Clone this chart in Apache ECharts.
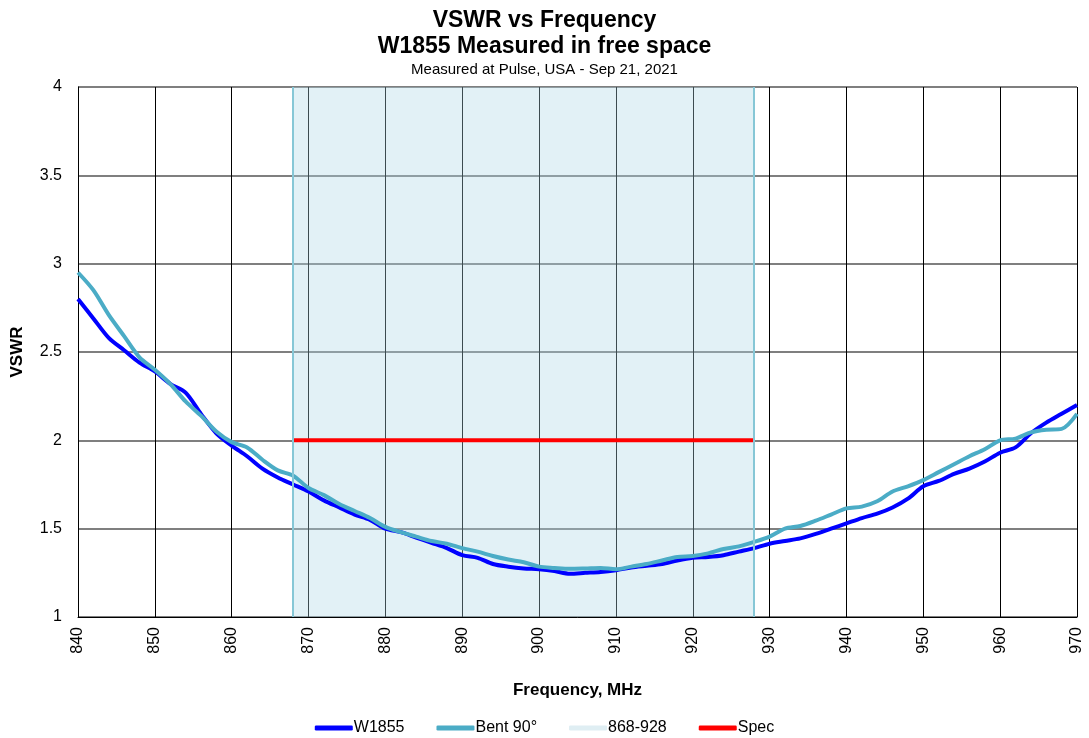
<!DOCTYPE html>
<html lang="en">
<head>
    <meta charset="UTF-8">
    <title>VSWR vs Frequency</title>
    <script type="text/javascript" src="https://cdn.jsdelivr.net/npm/echarts@6/dist/echarts.min.js"></script>
    <style>
        body { margin: 0; background: #fff; }
    </style>
</head>
<body>
    <div id="main" style="width: 1089px; height: 738px"></div>
    <script>
        // frequency points, MHz
        var freq = [840, 842, 844, 846, 848, 850, 852, 854, 856, 858,
                    860, 862, 864, 866, 868, 870, 872, 874, 876, 878,
                    880, 882, 884, 886, 888, 890, 892, 894, 896, 898,
                    900, 902, 904, 906, 908, 910, 912, 914, 916, 918,
                    920, 922, 924, 926, 928, 930, 932, 934, 936, 938,
                    940, 942, 944, 946, 948, 950, 952, 954, 956, 958,
                    960, 962, 964, 966, 968, 970];
        var w1855 = [2.80, 2.69, 2.58, 2.51, 2.44, 2.39, 2.32, 2.27, 2.15, 2.04,
                     1.97, 1.91, 1.84, 1.79, 1.75, 1.71, 1.66, 1.62, 1.58, 1.55,
                     1.50, 1.48, 1.45, 1.42, 1.39, 1.35, 1.335, 1.30, 1.285, 1.275,
                     1.27, 1.26, 1.245, 1.25, 1.255, 1.265, 1.28, 1.29, 1.30, 1.32,
                     1.335, 1.34, 1.35, 1.37, 1.39, 1.415, 1.43, 1.445, 1.47, 1.50,
                     1.53, 1.56, 1.585, 1.62, 1.67, 1.74, 1.77, 1.81, 1.84, 1.88,
                     1.93, 1.96, 2.04, 2.10, 2.15, 2.20];
        var bent90 = [2.95, 2.85, 2.71, 2.59, 2.47, 2.40, 2.32, 2.22, 2.14, 2.05,
                      1.99, 1.96, 1.89, 1.83, 1.80, 1.73, 1.69, 1.64, 1.60, 1.56,
                      1.51, 1.48, 1.455, 1.43, 1.415, 1.39, 1.37, 1.345, 1.325, 1.31,
                      1.285, 1.278, 1.273, 1.275, 1.278, 1.27, 1.285, 1.30, 1.32, 1.34,
                      1.345, 1.36, 1.385, 1.40, 1.425, 1.455, 1.50, 1.515, 1.545, 1.58,
                      1.615, 1.625, 1.655, 1.71, 1.74, 1.775, 1.82, 1.865, 1.91, 1.95,
                      2.00, 2.01, 2.045, 2.06, 2.065, 2.15];
        var band = [868, 928];
        var specLevel = 2;

        function pairs(xs, ys) {
            return xs.map(function (x, i) { return [x, ys[i]]; });
        }

        var myChart = echarts.init(document.getElementById('main'));
        var font = '"Liberation Sans", Arial, sans-serif';

        myChart.setOption({
            animation: false,
            textStyle: { fontFamily: font, color: '#000' },
            title: [{
                text: 'VSWR vs Frequency',
                left: 'center',
                top: 4,
                textStyle: { fontFamily: font, fontSize: 23, fontWeight: 'bold', color: '#000' }
            }, {
                text: 'W1855 Measured in free space',
                left: 'center',
                top: 30,
                textStyle: { fontFamily: font, fontSize: 23, fontWeight: 'bold', color: '#000' }
            }, {
                text: 'Measured at Pulse, USA - Sep 21, 2021',
                left: 'center',
                top: 57,
                textStyle: { fontFamily: font, fontSize: 15, fontWeight: 'normal', color: '#000' }
            }],
            legend: {
                top: 715,
                left: 'center',
                itemWidth: 38,
                itemHeight: 5,
                itemGap: 32,
                icon: 'roundRect',
                textStyle: { fontFamily: font, fontSize: 16, color: '#000', padding: [0, 0, 0, -4] },
                data: ['W1855', 'Bent 90°', '868-928', 'Spec']
            },
            grid: {
                left: 78,
                right: 12,
                top: 87,
                bottom: 121
            },
            xAxis: {
                type: 'value',
                min: 840,
                max: 970,
                interval: 10,
                name: 'Frequency, MHz',
                nameLocation: 'middle',
                nameGap: 65,
                nameTextStyle: { fontFamily: font, fontSize: 17, fontWeight: 'bold', color: '#000' },
                axisLine: { lineStyle: { color: '#000', width: 1 } },
                axisTick: { show: false },
                axisLabel: { rotate: 90, fontSize: 16, color: '#000', margin: 10 },
                splitLine: { show: true, lineStyle: { color: '#000', width: 1 } }
            },
            yAxis: {
                type: 'value',
                min: 1,
                max: 4,
                interval: 0.5,
                name: 'VSWR',
                nameLocation: 'middle',
                nameGap: 52,
                nameTextStyle: { fontFamily: font, fontSize: 17, fontWeight: 'bold', color: '#000' },
                axisLine: { show: true, lineStyle: { color: '#000', width: 1 } },
                axisTick: { show: false },
                axisLabel: { fontSize: 16, color: '#000', margin: 16 },
                splitLine: { show: true, lineStyle: { color: '#555', width: 1.5 } }
            },
            series: [{
                name: '868-928',
                type: 'line',
                data: [],
                color: '#dfeef3',
                lineStyle: { width: 5 },
                markArea: {
                    silent: true,
                    itemStyle: { color: 'rgba(173, 214, 229, 0.35)' },
                    data: [[{ xAxis: band[0] }, { xAxis: band[1] }]]
                },
                markLine: {
                    silent: true,
                    symbol: 'none',
                    label: { show: false },
                    lineStyle: { color: '#86c7d6', width: 2, type: 'solid' },
                    data: [{ xAxis: band[0] }, { xAxis: band[1] }]
                }
            }, {
                name: 'Spec',
                type: 'line',
                data: [[band[0], specLevel], [band[1], specLevel]],
                color: '#ff0000',
                symbol: 'none',
                lineStyle: { width: 4 },
                z: 3
            }, {
                name: 'Bent 90°',
                type: 'line',
                data: pairs(freq, bent90),
                color: '#4bacc6',
                symbol: 'none',
                smooth: 0.3,
                lineStyle: { width: 4 },
                z: 4
            }, {
                name: 'W1855',
                type: 'line',
                data: pairs(freq, w1855),
                color: '#0000ff',
                symbol: 'none',
                smooth: 0.3,
                lineStyle: { width: 4 },
                z: 3
            }]
        });
    </script>
</body>
</html>
